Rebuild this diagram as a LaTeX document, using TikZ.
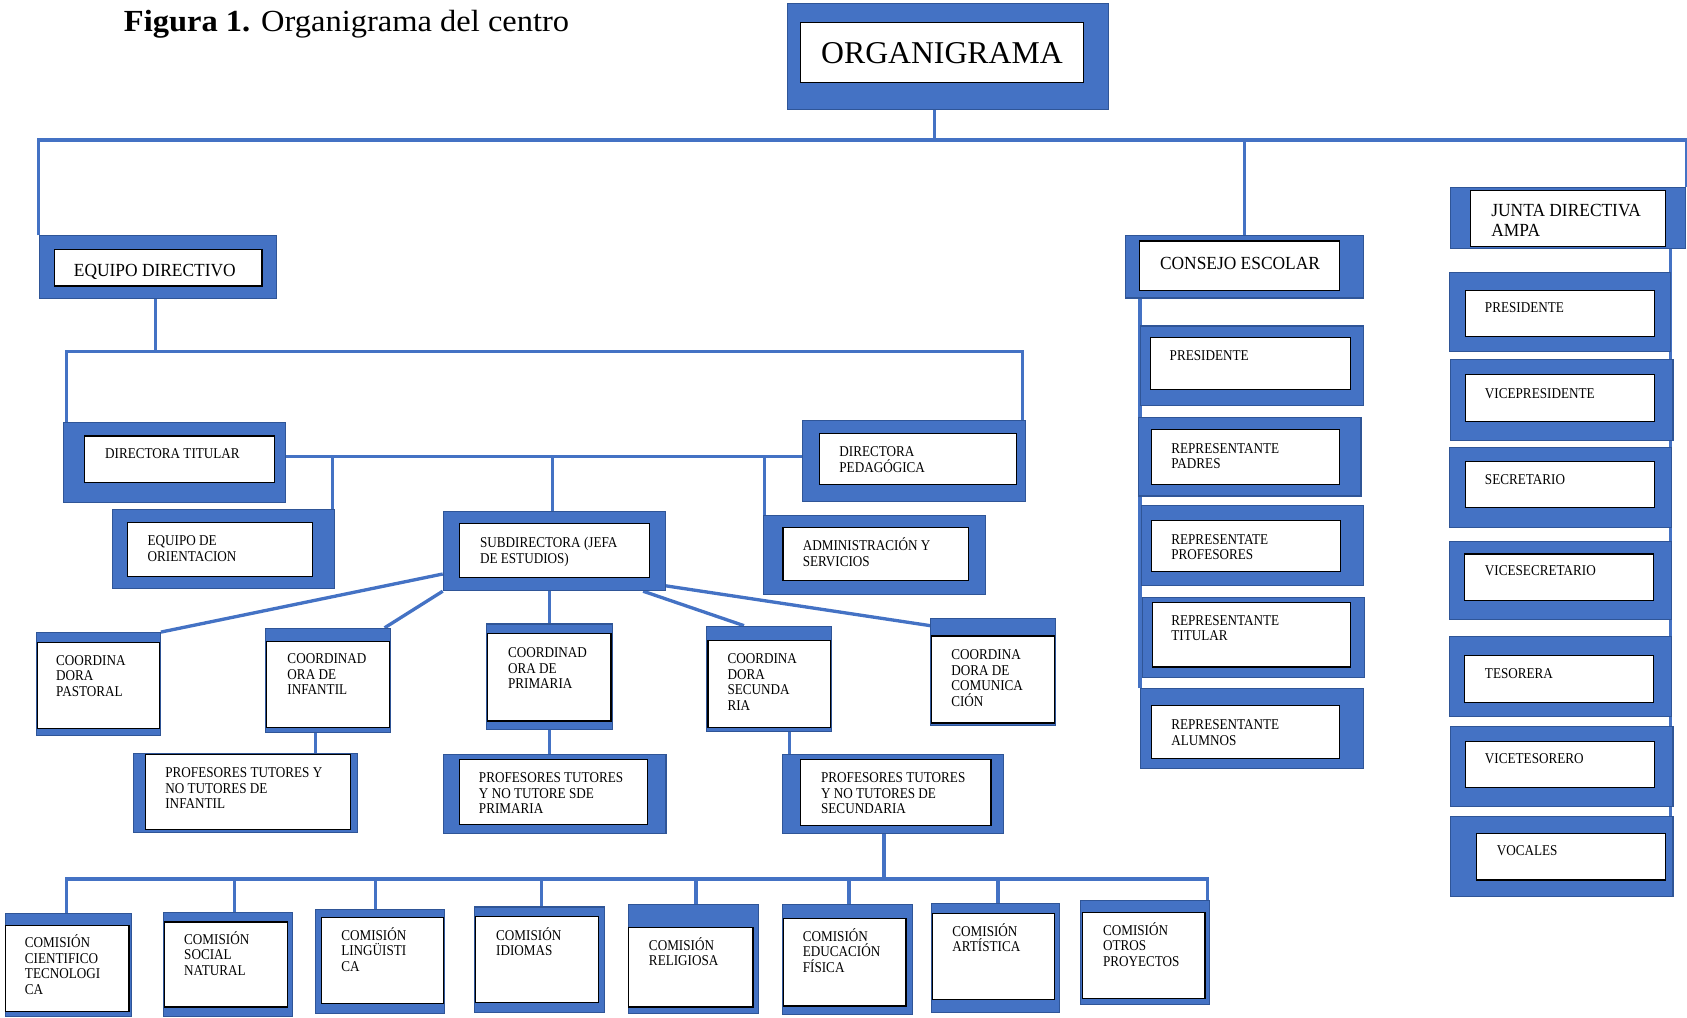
\documentclass[tikz,border=0pt]{standalone}
\usepackage{fontspec}
\setmainfont{Liberation Serif}
\newfontfamily\boxfont{Liberation Serif}[FakeStretch=0.88]
\newfontfamily\headfont{Liberation Serif}[FakeStretch=0.94]
\newfontfamily\titlefont{Liberation Serif}[FakeStretch=1.06]
\usetikzlibrary{fit,backgrounds}
\definecolor{boxblue}{HTML}{4472C4}
\definecolor{boxedge}{HTML}{2F5597}
\newcommand{\linkwidth}{3.1}
\newcommand{\firststrut}{\rule{0pt}{12.5pt}}
\tikzset{
  outerbox/.style={draw=boxedge, fill=boxblue, line width=1pt, inner sep=0pt},
  innerbox/.style={draw=black, fill=white, line width=1.2pt, inner sep=0pt},
  smalltxt/.style={anchor=north west, yshift=12.5pt, inner sep=0pt, align=left, font=\boxfont\fontsize{13.9}{14.5}\selectfont},
  medtxt/.style={anchor=north west, yshift=12.5pt, inner sep=0pt, align=left, font=\headfont\fontsize{17.2}{18.6}\selectfont},
  bigtxt/.style={inner sep=0pt, font=\fontsize{29.5}{32}\selectfont},
  link/.style={draw=boxblue, line width=\linkwidth pt},
}
% outer box, inner box, text at first baseline
\newcommand{\orgbox}[6][smalltxt]{%
  \node[outerbox, fit={#3}] (#2) {};
  \node[innerbox, fit={#4}] (#2-in) {};
  \node[#1] (#2-txt) at #5 {\firststrut#6};
}

\begin{document}
\begin{tikzpicture}[x=1pt, y=-1pt]
        \useasboundingbox (0,0) rectangle (1568,946);

        %title
        \node[anchor=base west, inner sep=0pt, font=\titlefont\fontsize{28.5}{32}\selectfont] (title) at (115,29.4) {\textbf{Figura 1.} Organigrama del centro};

        %top
        \node[outerbox, fit={(732,3) (1030,102)}] (org) {};
        \node[innerbox, fit={(744,21) (1007,77)}] (org-in) {};
        \node[bigtxt] (org-txt) at (org-in) {ORGANIGRAMA};

        \orgbox[medtxt]{ed}{(36.5,219.3) (257.3,277.3)}{(50.6,231.7) (243.6,265.8)}{(68.5,256.5)}{EQUIPO DIRECTIVO}
        \orgbox[medtxt]{ce}{(1046,219) (1267,277)}    {(1059,224) (1245,270)}      {(1078,250)}  {CONSEJO ESCOLAR}
        \orgbox[medtxt]{ja}{(1348,174) (1567,231)}    {(1367,177) (1548,229)}      {(1386,201.4)}{JUNTA DIRECTIVA\\AMPA}

        %equipo directivo
        \orgbox{dt}{(59.3,392.9) (265.6,467.2)}{(78.8,405.2) (255.2,448.6)}{(97.5,425.5)}{DIRECTORA TITULAR}
        \orgbox{dp}{(746,391) (953,466)}       {(762,403) (945,450)}       {(780,424.5)} {DIRECTORA\\PEDAGÓGICA}
        \orgbox{eo}{(104.6,473.4) (311,547.2)} {(118.3,485.8) (290.5,536)} {(137,507)}   {EQUIPO DE\\ORIENTACION}
        \orgbox{sd}{(412,475) (618.3,549)}     {(427.4,486.4) (603.8,536.6)}{(446,509)}  {SUBDIRECTORA (JEFA\\DE ESTUDIOS)}
        \orgbox{ad}{(709.3,478.7) (915.6,552.4)}{(727.8,490.4) (900.3,539.4)}{(746,511.7)}{ADMINISTRACIÓN Y\\SERVICIOS}

        %coordinadoras
        \orgbox{cp} {(34,588) (149,684)} {(35,597) (148,677)} {(52,618)}   {COORDINA\\DORA\\PASTORAL}
        \orgbox{ci} {(247,584) (363,681)}{(248,596) (362,676)}{(267,616.5)}{COORDINAD\\ORA DE\\INFANTIL}
        \orgbox{cpr}{(452,580) (569,678)}{(453,589) (568,670)}{(472,611)}  {COORDINAD\\ORA DE\\PRIMARIA}
        \orgbox{cs} {(657,582) (773,680)}{(658,595) (772,676)}{(676,616.5)}{COORDINA\\DORA\\SECUNDA\\RIA}
        \orgbox{cc} {(865,575) (981,674)}{(866,591) (980,672)}{(884,612.7)}{COORDINA\\DORA DE\\COMUNICA\\CIÓN}

        %profesores
        \orgbox{pi}{(124,700) (332,774)}{(135,701) (326,771)}{(153.5,722.6)}{PROFESORES TUTORES Y\\NO TUTORES DE\\INFANTIL}
        \orgbox{pp}{(412,701) (619,775)}{(427,706) (602,766)}{(445,727.3)}  {PROFESORES TUTORES\\Y NO TUTORE SDE\\PRIMARIA}
        \orgbox{ps}{(727,701) (933,775)}{(744,706) (921,767)}{(763,727.3)}  {PROFESORES TUTORES\\Y NO TUTORES DE\\SECUNDARIA}

        %comisiones
        \orgbox{c1}{(5,849) (122,945)}    {(5,860) (120,940)}    {(23,880.4)}  {COMISIÓN\\CIENTIFICO\\TECNOLOGI\\CA}
        \orgbox{c2}{(152,848) (272,945)}  {(153,857) (267,936)}  {(171,877.5)} {COMISIÓN\\SOCIAL\\NATURAL}
        \orgbox{c3}{(293,845) (413,942)}  {(299,853) (412,933)}  {(317,873.5)} {COMISIÓN\\LINGÜISTI\\CA}
        \orgbox{c4}{(441,843) (562,941)}  {(442,852) (556,932)}  {(461,873.5)} {COMISIÓN\\IDIOMAS}
        \orgbox{c5}{(584,841) (705,942)}  {(584,862) (700,936)}  {(603,882.8)} {COMISIÓN\\RELIGIOSA}
        \orgbox{c6}{(727,841) (848,943)}  {(728,854) (842,935)}  {(746,874.5)} {COMISIÓN\\EDUCACIÓN\\FÍSICA}
        \orgbox{c7}{(866,840) (985,941)}  {(867,849) (980,929)}  {(885,869.8)} {COMISIÓN\\ARTÍSTICA}
        \orgbox{c8}{(1004,837) (1124,934)}{(1006,848) (1120,928)}{(1025,868.9)}{COMISIÓN\\OTROS\\PROYECTOS}

        %consejo escolar
        \orgbox{cep}{(1060,303) (1267,377)}{(1069,314) (1255,362)}{(1087,334.5)} {PRESIDENTE}
        \orgbox{crp}{(1058,388) (1265,461)}{(1070,399) (1245,450)}{(1088.5,421)}  {REPRESENTANTE\\PADRES}
        \orgbox{crf}{(1061,470) (1267,544)}{(1070,484) (1246,531)}{(1088.5,505.7)}{REPRESENTATE\\PROFESORES}
        \orgbox{crt}{(1062,555) (1268,630)}{(1071,560) (1255,620)}{(1088.5,581)}  {REPRESENTANTE\\TITULAR}
        \orgbox{cra}{(1060,640) (1267,714)}{(1070,656) (1245,705)}{(1088.5,678)}  {REPRESENTANTE\\ALUMNOS}

        %ampa
        \orgbox{apr}{(1347,253) (1553,327)}{(1362,270) (1538,313)}{(1380,290.4)}{PRESIDENTE}
        \orgbox{avp}{(1348,334) (1555,409)}{(1362,348) (1538,392)}{(1380,370)}  {VICEPRESIDENTE}
        \orgbox{ase}{(1347,416) (1554,490)}{(1362,429) (1538,472)}{(1380,450)}  {SECRETARIO}
        \orgbox{avs}{(1347,503) (1554,576)}{(1361,515) (1537,558)}{(1380,535)}  {VICESECRETARIO}
        \orgbox{ate}{(1347,592) (1554,666)}{(1361,609) (1537,653)}{(1380,630)}  {TESORERA}
        \orgbox{avt}{(1348,675) (1555,750)}{(1362,689) (1538,732)}{(1380,709)}  {VICETESORERO}
        \orgbox{avo}{(1348,759) (1555,833)}{(1372,775) (1548,818)}{(1391,795)}  {VOCALES}

        %links
        \begin{pgfonlayer}{background}
        \coordinate (top)  at (868.8,130);
        \coordinate (bus2) at (144.4,326.9);
        \coordinate (bus3) at (513.3,424.5);
        \coordinate (bus5) at (821.6,817);

        \draw[link] (org.south -| top) -- (top);
        \draw[link] (ed.north west) |- (top) -| (ja.north east);
        \draw[link] (ce.north) -- (ce.north |- top);

        \draw[link] (ed.south -| bus2) -- (bus2);
        \draw[link] ([xshift=3pt]dt.north west) |- (bus2) -| ([xshift=-3pt]dp.north east);
        \draw[link] (dt.east |- bus3) -- (dp.west |- bus3);
        \draw[link] (sd.north -| bus3) -- (bus3);
        \draw[link] ([xshift=-2.7pt]eo.north east) -- ([xshift=-2.7pt]eo.north east |- bus3);
        \draw[link] ([xshift=1.7pt]ad.north west) -- ([xshift=1.7pt]ad.north west |- bus3);

        \draw[link] ([yshift=16pt]sd.south west) -- (cp.north east);
        \draw[link] (sd.south west) -- ([xshift=-6pt]ci.north east);
        \draw[link] (cpr.north) -- (cpr.north |- sd.south);
        \draw[link] ([xshift=-21pt]sd.south east) -- ([xshift=35pt]cs.north west);
        \draw[link] ([yshift=5pt]sd.south east) -- ([yshift=-7pt]cc.north west);

        \draw[link] ([xshift=-12pt]ci.south) -- ([xshift=-12pt]ci.south |- pi.north);
        \draw[link] (cpr.south) -- (cpr.south |- pp.north);
        \draw[link] ([xshift=7pt]ps.north west) -- ([xshift=7pt]ps.north west |- cs.south);

        \draw[link] (ps.south -| bus5) -- (bus5);
        \draw[link] ([xshift=-2pt]c1.north) |- (bus5) -| ([xshift=-2.5pt]c8.north east);
        \foreach \c/\dx in {c2/6, c3/-4, c4/2, c5/2.5, c6/1.5, c7/2}
            \draw[link] ([xshift=\dx pt]\c.north) -- ([xshift=\dx pt]\c.north |- bus5);

        \draw[link] (cra.north west) -- (cra.north west |- ce.south);
        \draw[link] ([xshift=-3pt]avo.north east) -- ([xshift=-3pt]avo.north east |- ja.south);
        \end{pgfonlayer}
\end{tikzpicture}
\end{document}
